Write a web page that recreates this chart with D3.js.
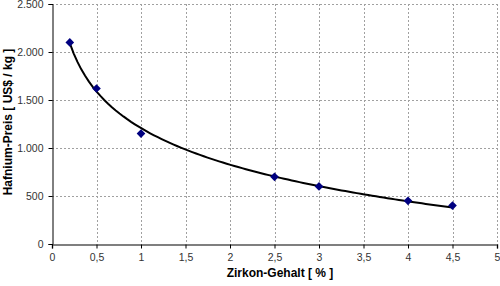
<!DOCTYPE html>
<html>
<head>
<meta charset="utf-8">
<style>
body { margin: 0; background: #fff; }
text { font-family: "Liberation Sans", Arial, sans-serif; }
.grid line { stroke: #a0a0a0; stroke-width: 1px; stroke-dasharray: 2,2; }
</style>
</head>
<body>
<script src="https://cdn.jsdelivr.net/npm/d3@7"></script>
<script>

// Zirkon-Gehalt [%] vs Hafnium-Preis [US$/kg]
var zirkon = [0.2, 0.5, 1, 2.5, 3, 4, 4.5];
var preis = [2100, 1620, 1150, 700, 600, 450, 400];
var xTicks = [0, 0.5, 1, 1.5, 2, 2.5, 3, 3.5, 4, 4.5, 5];
var yTicks = [0, 500, 1000, 1500, 2000, 2500];

var width = 500, height = 286;
var plotLeft = 52, plotRight = 497, plotTop = 4, plotBottom = 244;

var svg = d3.select("body").append("svg")
    .attr("width", width)
    .attr("height", height);

var x = d3.scaleLinear().domain([0, 5]).range([plotLeft, plotRight]);
var y = d3.scaleLinear().domain([0, 2500]).range([plotBottom, plotTop]);

var fmt = function(v) { return d3.format(",")(v).replace(/,/g, "."); };
var fmtX = function(v) { return String(v).replace(".", ","); };

// grid
var grid = svg.append("g").attr("class", "grid");
grid.selectAll("line.v").data(xTicks.slice(1)).enter().append("line")
    .attr("class", "v")
    .attr("x1", function(d) { return Math.round(x(d)) + 0.5; })
    .attr("x2", function(d) { return Math.round(x(d)) + 0.5; })
    .attr("y1", plotTop).attr("y2", plotBottom);
grid.selectAll("line.h").data(yTicks.slice(1)).enter().append("line")
    .attr("class", "h")
    .attr("y1", function(d) { return Math.round(y(d)) + 0.5; })
    .attr("y2", function(d) { return Math.round(y(d)) + 0.5; })
    .attr("x1", plotLeft).attr("x2", plotRight);

// axes
var xAxis = svg.append("g")
    .attr("transform", "translate(0," + (plotBottom + 0.5) + ")")
    .call(d3.axisBottom(x).tickValues(xTicks).tickFormat(fmtX).tickSizeOuter(0).tickSize(4).tickPadding(5));
var yAxis = svg.append("g")
    .attr("transform", "translate(" + (plotLeft + 0.5) + ",0)")
    .call(d3.axisLeft(y).tickValues(yTicks).tickFormat(fmt).tickSizeOuter(0).tickSize(4).tickPadding(5));

[xAxis, yAxis].forEach(function(a) {
  a.select(".domain").attr("stroke", "#000");
  a.selectAll(".tick line").attr("stroke", "#000");
  a.selectAll(".tick text")
      .attr("fill", "#333")
      .style("font-size", "10.5px")
      .style("font-family", "Liberation Sans, Arial, sans-serif");
});
xAxis.select(".domain").attr("stroke", "#555").attr("stroke-width", 1.5);

// logarithmic trendline fitted to the points
var lx = zirkon.map(Math.log);
var mx = d3.mean(lx), my = d3.mean(preis);
var sxy = d3.sum(lx, function(v, i) { return (v - mx) * (preis[i] - my); });
var sxx = d3.sum(lx, function(v) { return (v - mx) * (v - mx); });
var b = sxy / sxx, a = my - b * mx;
var trend = d3.range(0, 101).map(function(i) {
  var xv = zirkon[0] + (zirkon[zirkon.length - 1] - zirkon[0]) * i / 100;
  return [xv, a + b * Math.log(xv)];
});
svg.append("path")
    .datum(trend)
    .attr("fill", "none")
    .attr("stroke", "#000")
    .attr("stroke-width", 2)
    .attr("d", d3.line().x(function(d) { return x(d[0]); }).y(function(d) { return y(d[1]); }));

// markers
svg.selectAll("path.pt")
    .data(zirkon)
    .enter().append("path")
    .attr("class", "pt")
    .attr("d", d3.symbol().type(d3.symbolDiamond2).size(48))
    .attr("fill", "#000080")
    .attr("transform", function(d, i) { return "translate(" + x(d) + "," + y(preis[i]) + ")"; });

// axis titles
svg.append("text")
    .attr("x", 280).attr("y", 277)
    .attr("text-anchor", "middle")
    .style("font-weight", "bold")
    .style("font-size", "12px")
    .text("Zirkon-Gehalt [ % ]");
svg.append("text")
    .attr("transform", "translate(12," + 122 + ") rotate(-90)")
    .attr("text-anchor", "middle")
    .style("font-weight", "bold")
    .style("font-size", "12px")
    .text("Hafnium-Preis [ US$ / kg ]");

</script>
</body>
</html>
